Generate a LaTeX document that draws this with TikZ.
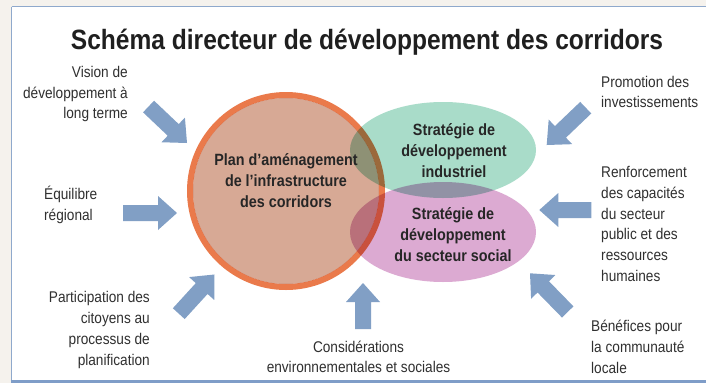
\documentclass[tikz,border=0pt]{standalone}
\usepackage{fontspec}
\setmainfont{Liberation Sans}[FakeStretch=0.88]
\definecolor{bgout}{HTML}{F5F2ED}
\definecolor{frameblue}{HTML}{8FA9CC}
\definecolor{framebot}{HTML}{7F9DC8}
\definecolor{arrowblue}{HTML}{819FC5}
\definecolor{ringorange}{HTML}{EA7A4B}
\definecolor{fillorange}{HTML}{D7A995}
\definecolor{fillgreen}{HTML}{A9DCC9}
\definecolor{fillpink}{HTML}{DCAAD2}
\definecolor{labelgray}{HTML}{303030}
\definecolor{innertext}{HTML}{262626}
\tikzset{
  barrow/.pic={\fill[arrowblue] (0,0) -- (-19,17) -- (-19,8) -- (-#1,8) -- (-#1,-8) -- (-19,-8) -- (-19,-17) -- cycle;},
  lbl/.style={inner sep=0pt, text=labelgray, font=\fontsize{15.5}{20.7}\selectfont},
  inner/.style={inner sep=0pt, text=innertext, align=center, font=\bfseries\fontsize{16.3}{21}\selectfont},
}
\begin{document}
\begin{tikzpicture}[x=1pt,y=-1pt]
\useasboundingbox (0,0) rectangle (706,383);
\fill[bgout] (0,0) rectangle (706,383);
\fill[white] (11.5,6.5) rectangle (706,380);
\draw[frameblue, line width=1.6pt] (11.5,6.5) -- (706,6.5);
\draw[frameblue, line width=1.8pt] (11.5,6.5) -- (11.5,381);
\draw[framebot, line width=3pt] (10.6,381) -- (706,381);

\node[inner sep=0pt, text=black!88, font=\bfseries\fontsize{27.9}{30}\selectfont] (title) at (367,42) {Schéma directeur de développement des corridors};

\begin{scope}[blend mode=multiply]
  \fill[fillorange] (286,191) circle[radius=93];
  \draw[ringorange, line width=6pt] (286,191) circle[radius=96];
  \fill[fillgreen] (443,150) ellipse[x radius=93, y radius=48];
  \fill[fillpink] (443,232) ellipse[x radius=93, y radius=50];
\end{scope}

\node[inner] (plan) at (286,181) {Plan d’aménagement\\de l’infrastructure\\des corridors};
\node[inner] (indus) at (454,151) {Stratégie de\\développement\\industriel};
\node[inner] (social) at (453,235) {Stratégie de\\développement\\du secteur social};

\node[lbl, anchor=east, align=right] (vision) at (128,94) {Vision de\\développement à\\long terme};
\node[lbl, anchor=west, align=left] (equil) at (44,205) {Équilibre\\régional};
\node[lbl, anchor=east, align=right] (partic) at (150,330) {Participation des\\citoyens au\\processus de\\planification};
\node[lbl, align=center] (consid) at (358.5,357) {Considérations\\environnementales et sociales};
\node[lbl, anchor=west, align=left] (promo) at (601,92) {Promotion des\\investissements};
\node[lbl, anchor=west, align=left] (renf) at (601,224) {Renforcement\\des capacités\\du secteur\\public et des\\ressources\\humaines};
\node[lbl, anchor=west, align=left] (benef) at (591,347) {Bénéfices pour\\la communauté\\locale};

\pic[rotate=-43.5] at (187,143) {barrow=53};
\pic[rotate=0] at (177,213) {barrow=54};
\pic[rotate=47.6] at (214.5,274.5) {barrow=53};
\pic[rotate=90] at (363,283) {barrow=46};
\pic[rotate=223.7] at (546.7,145) {barrow=54};
\pic[rotate=180] at (539.3,210) {barrow=52};
\pic[rotate=134.3] at (530,273.3) {barrow=54};
\end{tikzpicture}
\end{document}
